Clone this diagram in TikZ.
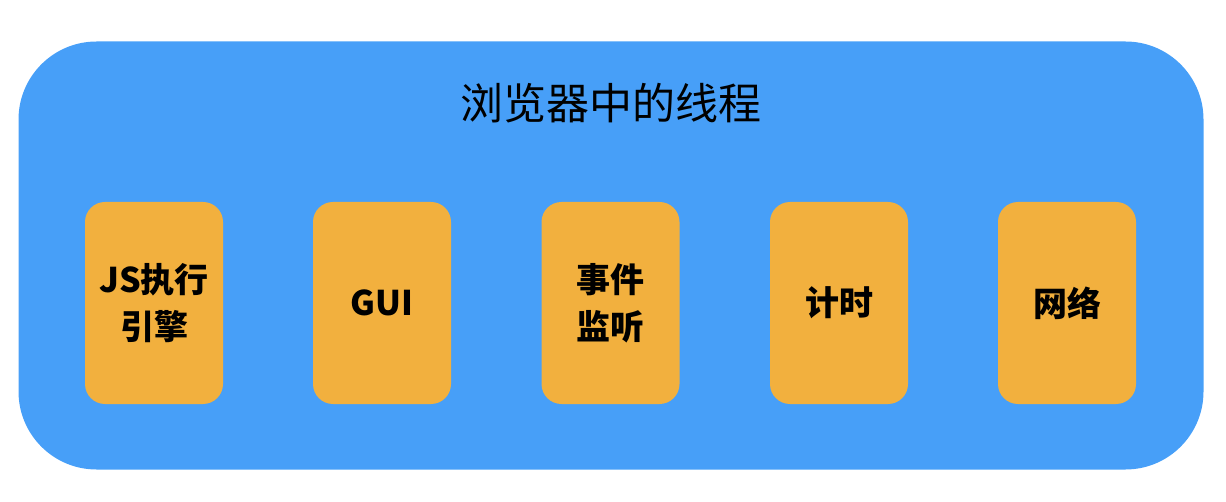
\documentclass[tikz,border=0pt]{standalone}
\usepackage{fontspec}
\setmainfont{Noto Sans CJK SC}
\usetikzlibrary{positioning}

\definecolor{panelblue}{HTML}{479FF8}
\definecolor{threadorange}{HTML}{F2B03E}

\begin{document}
\begin{tikzpicture}[
  x=1pt, y=-1pt,
  panel/.style ={fill=panelblue, rounded corners=78pt, minimum width=1185pt,
                 minimum height=428pt, inner sep=0pt},
  thread/.style={fill=threadorange, rounded corners=20pt, minimum width=138pt,
                 minimum height=202pt, inner sep=0pt, align=center,
                 font=\fontsize{34}{47}\selectfont\bfseries},
  title/.style ={font=\fontsize{43}{50}\selectfont},
]
\useasboundingbox (0,0) rectangle (1226,502);

% ============================ outer panel ===================================
\node[panel] (browser) at (611,255.5) {};
\node[title] (heading) at (611,103) {浏览器中的线程};

% ============================ thread boxes ==================================
\foreach \n/\x/\txt in {js/154/{JS执行\\引擎}, gui/382/GUI, evt/610.5/{事件\\监听},
                        tmr/839/计时, net/1067/网络} {
  \node[thread] (\n) at (\x,303) {\txt};
}

\end{tikzpicture}
\end{document}
